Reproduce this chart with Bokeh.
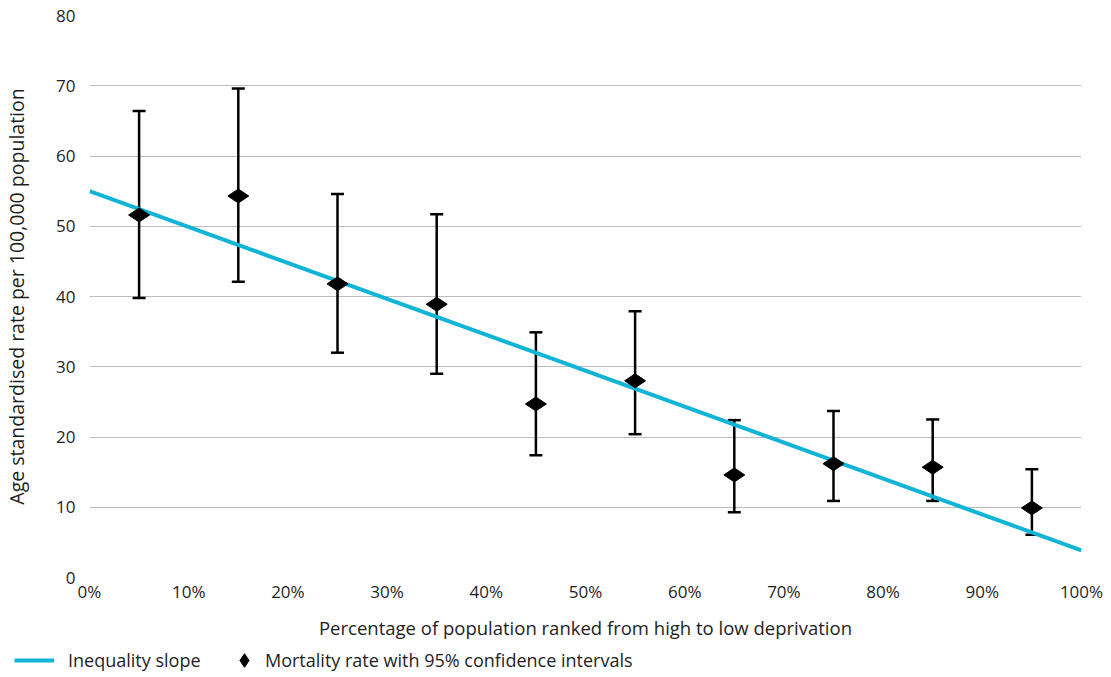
from bokeh.plotting import figure
from bokeh.layouts import column
from bokeh.models import (ColumnDataSource, Whisker, TeeHead, FixedTicker,
                          PrintfTickFormatter, Legend, LegendItem)
from bokeh.embed import file_html
from bokeh.resources import INLINE
import math

# ---- data ----
decile_mid = [5, 15, 25, 35, 45, 55, 65, 75, 85, 95]
rate = [51.6, 54.3, 41.8, 38.9, 24.7, 28.0, 14.6, 16.2, 15.7, 9.9]
ci_upper = [66.4, 69.6, 54.6, 51.7, 34.9, 37.9, 22.4, 23.7, 22.5, 15.4]
ci_lower = [39.8, 42.1, 32.0, 29.0, 17.4, 20.4, 9.3, 10.9, 10.9, 6.1]
slope_x = [0, 100]
slope_y = [55.0, 3.85]
x_ticks = [0, 10, 20, 30, 40, 50, 60, 70, 80, 90, 100]
y_ticks = [0, 10, 20, 30, 40, 50, 60, 70, 80]

FONT = "Open Sans"
TXT = "#1e1e1e"
CYAN = "#10b4d6"

p = figure(width=1111, height=643, x_range=(0, 100), y_range=(0, 80),
           output_backend="svg", toolbar_location=None,
           min_border_left=88, min_border_right=30, min_border_top=15,
           min_border_bottom=66)
p.outline_line_color = None
p.background_fill_color = "white"
p.border_fill_color = "white"

src = ColumnDataSource(dict(x=decile_mid, rate=rate, up=ci_upper, lo=ci_lower))

p.line(slope_x, slope_y, line_color=CYAN, line_width=4)

wh = Whisker(base="x", upper="up", lower="lo", source=src,
             line_color="black", line_width=2.5,
             upper_head=TeeHead(size=13, line_width=2.5, line_color="black"),
             lower_head=TeeHead(size=13, line_width=2.5, line_color="black"))
p.add_layout(wh)

p.scatter("x", "rate", source=src, marker="diamond", angle=math.pi / 2,
          size=21, fill_color="black", line_color="black")

# axes
p.xaxis.ticker = FixedTicker(ticks=x_ticks)
p.xaxis.formatter = PrintfTickFormatter(format="%d%%")
p.yaxis.ticker = FixedTicker(ticks=y_ticks)
for ax in (p.xaxis[0], p.yaxis[0]):
    ax.axis_line_color = None
    ax.major_tick_line_color = None
    ax.minor_tick_line_color = None
    ax.major_label_text_font = FONT
    ax.major_label_text_font_size = "17px"
    ax.major_label_text_color = TXT
    ax.axis_label_text_font = FONT
    ax.axis_label_text_font_style = "normal"
    ax.axis_label_text_color = TXT
p.xaxis.axis_label_text_font_size = "18.5px"
p.yaxis.axis_label_text_font_size = "19.5px"
p.xaxis.axis_label = "Percentage of population ranked from high to low deprivation"
p.yaxis.axis_label = "Age standardised rate per 100,000 population"
p.xaxis.major_label_standoff = -4
p.xaxis.axis_label_standoff = 9
p.yaxis.major_label_standoff = 8
p.yaxis.axis_label_standoff = 23

p.xgrid.grid_line_color = None
p.ygrid.grid_line_color = "#bcbcbc"
p.ygrid.grid_line_width = 1

# ---- legend strip ----
lf = figure(width=1111, height=34, x_range=(0, 1), y_range=(0, 1),
            output_backend="svg", toolbar_location=None,
            x_axis_location=None, y_axis_location=None,
            min_border_left=0, min_border_right=0, min_border_top=0,
            min_border_bottom=0)
lf.grid.visible = False
lf.outline_line_color = None
lf.border_fill_color = "white"
lf.background_fill_color = "white"
for fig in (p, lf):
    try:
        fig.frame_align = False
    except Exception:
        pass

# legend proxies carry the real series but are hidden in the strip
l_line = lf.line(slope_x, slope_y, line_color=CYAN, line_width=4, visible=False)
l_pts = lf.scatter(decile_mid, rate, marker="diamond", size=14,
                   fill_color="black", line_color="black", visible=False)

common = dict(glyph_height=34, label_height=34, padding=0, margin=0,
              border_line_color=None, background_fill_alpha=0,
              inactive_fill_alpha=0,
              label_text_font=FONT, label_text_font_size="18px",
              label_text_color=TXT)
leg1 = Legend(items=[LegendItem(label="Inequality slope", renderers=[l_line])],
              location=(14, 0), glyph_width=40, label_standoff=14, **common)
leg2 = Legend(items=[LegendItem(label="Mortality rate with 95% confidence intervals",
                                renderers=[l_pts])],
              location=(227, 0), glyph_width=34, label_standoff=4, **common)
lf.add_layout(leg1)
lf.add_layout(leg2)

layout = column(p, lf, spacing=0)
open("out.html", "w").write(file_html(layout, INLINE))
